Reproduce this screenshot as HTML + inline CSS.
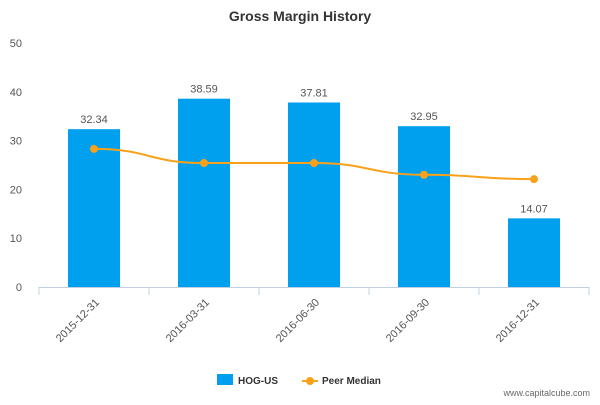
<!DOCTYPE html>
<html><head><meta charset="utf-8"><style>
body{margin:0;background:#fff;font-family:"Liberation Sans",sans-serif}
svg text{font-family:"Liberation Sans",sans-serif}
</style></head><body>
<svg id="chart" width="600" height="400">
<text x="300" y="21" text-anchor="middle" font-size="14" font-weight="bold" fill="#333">Gross Margin History</text>
<g id="grid"></g>
<g id="bars"></g>
<g id="line"></g>
<g id="xaxis"></g>
<g>
<g><rect x="217" y="374" width="16" height="11" fill="#00a0ef"/><text x="238" y="384" font-size="10" font-weight="bold" fill="#333">HOG-US</text></g>
<g><line x1="302" y1="381" x2="318" y2="381" stroke="#f9a11b" stroke-width="2"/><circle cx="310" cy="381" r="4" fill="#f9a11b"/><text x="322" y="384" font-size="10" font-weight="bold" fill="#333">Peer Median</text></g>
</g>
<text x="590" y="396" text-anchor="end" font-size="9" fill="#666">www.capitalcube.com</text>
</svg>
<script>
const categories=["2015-12-31","2016-03-31","2016-06-30","2016-09-30","2016-12-31"];
const hogValues=[32.34,38.59,37.81,32.95,14.07];
const peerValues=[28.3,25.4,25.4,23.0,22.1];
const yTicks=[0,10,20,30,40,50];
const NS="http://www.w3.org/2000/svg";
const x0=39,x1=589,y0=287,y1=43,yMax=50;
const bw=(x1-x0)/categories.length;
const Y=v=>y0-(v/yMax)*(y0-y1);
const X=i=>x0+bw*(i+0.5);
function mk(p,t,a){const e=document.createElementNS(NS,t);for(const k in a)e.setAttribute(k,a[k]);p.appendChild(e);return e;}
const grid=document.getElementById('grid');
yTicks.forEach(t=>{const e=mk(grid,'text',{x:22,y:Y(t)+4,'text-anchor':'end','font-size':11,fill:'#555'});e.textContent=t;

});
const bars=document.getElementById('bars');
hogValues.forEach((v,i)=>{const r=mk(bars,'rect',{x:X(i)-26,y:Y(v),width:52,height:y0-Y(v),fill:'#00a0ef'});


const t=mk(bars,'text',{x:X(i),y:Y(v)-6,'text-anchor':'middle','font-size':11,fill:'#555'});t.textContent=v.toFixed(2);

});
const ln=document.getElementById('line');
const pts=peerValues.map((v,i)=>[X(i),Y(v)]);
let d='M'+pts[0];
for(let i=1;i<pts.length;i++){const p=pts[i-1],q=pts[i],c=(q[0]-p[0])/2;d+=` C${p[0]+c},${p[1]} ${q[0]-c},${q[1]} ${q[0]},${q[1]}`;}
const path=mk(ln,'path',{d:d,fill:'none',stroke:'#f9a11b','stroke-width':2});


pts.forEach((p,i)=>{const c=mk(ln,'circle',{cx:p[0],cy:p[1],r:4,fill:'#f9a11b'});

});
const xa=document.getElementById('xaxis');
mk(xa,'line',{x1:x0,y1:y0+0.5,x2:x1,y2:y0+0.5,stroke:'#c0d0e0'});
for(let i=0;i<=categories.length;i++){mk(xa,'line',{x1:x0+bw*i,y1:y0,x2:x0+bw*i,y2:y0+8,stroke:'#c0d0e0'});}
categories.forEach((c,i)=>{const t=mk(xa,'text',{x:X(i)+6,y:y0+16,'text-anchor':'end','font-size':11,fill:'#555',transform:`rotate(-45 ${X(i)+6} ${y0+16})`});t.textContent=c;

});
</script>
</body></html>
